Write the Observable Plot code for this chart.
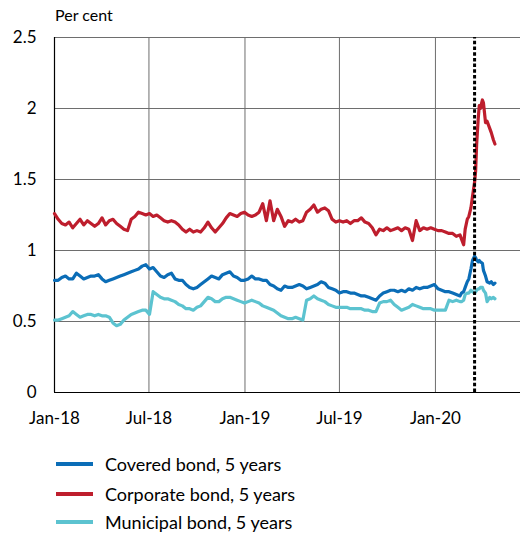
<!DOCTYPE html>
<html>
<head>
<meta charset="utf-8">
<script src="https://cdn.jsdelivr.net/npm/d3@7"></script>
<script src="https://cdn.jsdelivr.net/npm/@observablehq/plot@0.6"></script>
<style>
  html, body { margin: 0; padding: 0; background: #fff; }
  body { width: 520px; height: 536px; overflow: hidden; font-family: Lato, "Open Sans", sans-serif; color: #000; }
  #title { position: relative; height: 20px; }
  #title span { position: absolute; left: 55px; top: 6px; font-size: 16px; line-height: 18px; }
  #chart { height: 430px; }
  #legend { position: relative; height: 86px; }
  .row { position: absolute; left: 0; height: 24px; width: 520px; }
  .row .sw { position: absolute; left: 56px; top: 10px; width: 37px; height: 4px; }
  .row .tx { position: absolute; left: 105px; top: 0; font-size: 18px; line-height: 24px; white-space: nowrap; }
</style>
</head>
<body>
<div id="title"><span>Per cent</span></div>
<div id="chart"></div>
<div id="legend"></div>
<script>
// ---- data ----
const seriesNames = ["Covered bond, 5 years", "Corporate bond, 5 years", "Municipal bond, 5 years"];
const seriesColors = ["#0b6db7", "#be1e2d", "#5cc3d0"];

const dates = [
  "2018-01-01","2018-01-08","2018-01-15","2018-01-22","2018-01-29","2018-02-05","2018-02-12","2018-02-19","2018-02-26","2018-03-05",
  "2018-03-12","2018-03-19","2018-03-26","2018-04-02","2018-04-09","2018-04-16","2018-04-23","2018-04-30","2018-05-07","2018-05-14",
  "2018-05-21","2018-05-28","2018-06-04","2018-06-11","2018-06-18","2018-06-25","2018-07-02","2018-07-09","2018-07-16","2018-07-23",
  "2018-07-30","2018-08-06","2018-08-13","2018-08-20","2018-08-27","2018-09-03","2018-09-10","2018-09-17","2018-09-24","2018-10-01",
  "2018-10-08","2018-10-15","2018-10-22","2018-10-29","2018-11-05","2018-11-12","2018-11-19","2018-11-26","2018-12-03","2018-12-10",
  "2018-12-17","2018-12-24","2018-12-31","2019-01-07","2019-01-14","2019-01-21","2019-01-28","2019-02-04","2019-02-11","2019-02-18",
  "2019-02-25","2019-03-04","2019-03-11","2019-03-18","2019-03-25","2019-04-01","2019-04-08","2019-04-15","2019-04-22","2019-04-29",
  "2019-05-06","2019-05-13","2019-05-20","2019-05-27","2019-06-03","2019-06-10","2019-06-17","2019-06-24","2019-07-01","2019-07-08",
  "2019-07-15","2019-07-22","2019-07-29","2019-08-05","2019-08-12","2019-08-19","2019-08-26","2019-09-02","2019-09-09","2019-09-16",
  "2019-09-23","2019-09-30","2019-10-07","2019-10-14","2019-10-21","2019-10-28","2019-11-04","2019-11-11","2019-11-18","2019-11-25",
  "2019-12-02","2019-12-09","2019-12-16","2019-12-23","2019-12-30","2020-01-06","2020-01-13","2020-01-20","2020-01-27","2020-02-03",
  "2020-02-10","2020-02-17",
  "2020-02-20","2020-02-24","2020-02-27","2020-03-02","2020-03-05","2020-03-09","2020-03-12","2020-03-16","2020-03-18","2020-03-20",
  "2020-03-23","2020-03-25","2020-03-27","2020-03-31","2020-04-02","2020-04-06","2020-04-09","2020-04-14","2020-04-17","2020-04-21",
  "2020-04-24"
];

const covered = [
  0.79,0.79,0.81,0.82,0.80,0.80,0.84,0.82,0.80,0.81,
  0.82,0.82,0.83,0.80,0.78,0.79,0.80,0.81,0.82,0.83,
  0.84,0.85,0.86,0.87,0.89,0.90,0.87,0.88,0.85,0.82,
  0.81,0.83,0.84,0.80,0.79,0.79,0.76,0.74,0.73,0.74,
  0.76,0.78,0.80,0.82,0.81,0.80,0.83,0.84,0.85,0.82,
  0.81,0.79,0.79,0.80,0.82,0.80,0.80,0.79,0.79,0.76,
  0.75,0.73,0.72,0.75,0.74,0.74,0.75,0.76,0.75,0.73,
  0.74,0.75,0.76,0.78,0.77,0.74,0.73,0.72,0.70,0.71,
  0.71,0.70,0.70,0.69,0.68,0.68,0.67,0.66,0.65,0.68,
  0.70,0.71,0.72,0.72,0.71,0.72,0.71,0.73,0.72,0.74,
  0.73,0.74,0.74,0.75,0.76,0.73,0.72,0.71,0.71,0.70,
  0.69,0.68,
  0.70,0.71,0.74,0.78,0.80,0.87,0.93,0.96,0.95,0.93,
  0.92,0.93,0.92,0.91,0.86,0.82,0.78,0.77,0.78,0.76,
  0.77
];

const corporate = [
  1.26,1.22,1.19,1.18,1.20,1.16,1.19,1.22,1.18,1.21,
  1.19,1.17,1.19,1.23,1.18,1.21,1.22,1.19,1.17,1.15,
  1.14,1.22,1.24,1.27,1.26,1.25,1.26,1.24,1.25,1.23,
  1.21,1.20,1.21,1.20,1.18,1.15,1.13,1.15,1.13,1.14,
  1.13,1.16,1.20,1.16,1.13,1.16,1.19,1.23,1.26,1.25,
  1.24,1.26,1.27,1.25,1.24,1.25,1.27,1.33,1.21,1.35,
  1.21,1.29,1.24,1.17,1.21,1.20,1.22,1.20,1.21,1.27,
  1.29,1.32,1.27,1.29,1.30,1.28,1.22,1.20,1.21,1.20,
  1.21,1.19,1.21,1.21,1.23,1.20,1.19,1.16,1.11,1.15,
  1.14,1.16,1.14,1.15,1.16,1.14,1.16,1.15,1.07,1.21,
  1.14,1.16,1.15,1.16,1.15,1.14,1.14,1.13,1.12,1.12,
  1.10,1.11,
  1.08,1.04,1.15,1.22,1.24,1.30,1.38,1.48,1.56,1.75,
  1.93,2.02,2.00,2.06,2.04,1.90,1.91,1.86,1.83,1.78,
  1.75
];

const municipal = [
  0.51,0.51,0.52,0.53,0.54,0.57,0.55,0.53,0.54,0.55,
  0.55,0.54,0.55,0.54,0.54,0.53,0.49,0.47,0.48,0.51,
  0.53,0.55,0.56,0.57,0.58,0.58,0.55,0.71,0.69,0.67,
  0.66,0.66,0.65,0.64,0.62,0.61,0.59,0.59,0.58,0.60,
  0.61,0.64,0.67,0.66,0.64,0.64,0.66,0.67,0.67,0.66,
  0.65,0.64,0.63,0.64,0.65,0.64,0.63,0.61,0.60,0.59,
  0.58,0.56,0.54,0.53,0.52,0.52,0.53,0.52,0.51,0.65,
  0.66,0.68,0.66,0.65,0.64,0.62,0.61,0.60,0.60,0.60,
  0.60,0.59,0.59,0.59,0.59,0.58,0.58,0.57,0.57,0.63,
  0.64,0.64,0.65,0.62,0.60,0.58,0.59,0.60,0.62,0.61,
  0.60,0.59,0.59,0.59,0.58,0.58,0.58,0.58,0.65,0.64,
  0.65,0.64,
  0.64,0.65,0.69,0.70,0.70,0.72,0.71,0.70,0.71,0.72,
  0.73,0.73,0.74,0.74,0.72,0.70,0.64,0.67,0.66,0.67,
  0.66
];

const xDomain = ["2018-01-01", "2020-06-12"];
const xTickDates = ["2018-01-01", "2018-07-01", "2019-01-01", "2019-07-01", "2020-01-01"];
const xTickLabels = ["Jan-18", "Jul-18", "Jan-19", "Jul-19", "Jan-20"];
const xGridDates = ["2018-07-01", "2019-01-01", "2019-07-01", "2020-01-01"];
const yTicks = [0, 0.5, 1, 1.5, 2, 2.5];
const yTickLabels = ["0", "0.5", "1", "1.5", "2", "2.5"];
const eventDate = ["2020-03-16"];

// ---- build ----
const parse = d3.utcParse("%Y-%m-%d");
const allSeries = [covered, corporate, municipal];
const rows = [];
allSeries.forEach((vals, s) => {
  vals.forEach((v, i) => rows.push({date: parse(dates[i]), value: v, series: seriesNames[s]}));
});
const xLabelMap = new Map(xTickDates.map((d, i) => [+parse(d), xTickLabels[i]]));
const yLabelMap = new Map(yTicks.map((d, i) => [d, yTickLabels[i]]));

const chart = Plot.plot({
  width: 520,
  height: 430,
  marginTop: 17,
  marginBottom: 58,
  marginLeft: 54,
  marginRight: 0,
  style: {fontFamily: "Lato, 'Open Sans', sans-serif", fontSize: "17px", color: "#000", background: "#fff"},
  x: {type: "utc", domain: xDomain.map(parse)},
  y: {domain: [0, 2.5]},
  color: {domain: seriesNames, range: seriesColors},
  marks: [
    Plot.ruleY(yTicks.filter(d => d > 0), {stroke: "#6e6e6e", strokeWidth: 1}),
    Plot.ruleX(xGridDates.map(parse), {stroke: "#6e6e6e", strokeWidth: 1}),
    Plot.ruleY([0], {stroke: "#000", strokeWidth: 1.2}),
    Plot.ruleX([parse(xDomain[0])], {stroke: "#000", strokeWidth: 1.2}),
    Plot.axisY({ticks: yTicks, tickFormat: d => yLabelMap.get(d), tickSize: 0, tickPadding: 18, label: null, fontSize: 17}),
    Plot.axisX({ticks: xTickDates.map(parse), tickFormat: d => xLabelMap.get(+d), tickSize: 0, tickPadding: 19, label: null, fontSize: 17}),
    Plot.line(rows, {x: "date", y: "value", z: "series", stroke: "series", strokeWidth: 3.2, strokeLinejoin: "round"}),
    Plot.ruleX(eventDate.map(parse), {y1: 0, y2: 2.5, stroke: "#000", strokeWidth: 3, strokeDasharray: "3.5,2.2"})
  ]
});
document.getElementById("chart").appendChild(chart);

// legend
const legend = document.getElementById("legend");
const rowTops = [2, 32, 60];
seriesNames.forEach((name, i) => {
  const r = document.createElement("div");
  r.className = "row";
  r.style.top = rowTops[i] + "px";
  const sw = document.createElement("div");
  sw.className = "sw";
  sw.style.background = seriesColors[i];
  const tx = document.createElement("div");
  tx.className = "tx";
  tx.textContent = name;
  r.appendChild(sw);
  r.appendChild(tx);
  legend.appendChild(r);
});
</script>
</body>
</html>
